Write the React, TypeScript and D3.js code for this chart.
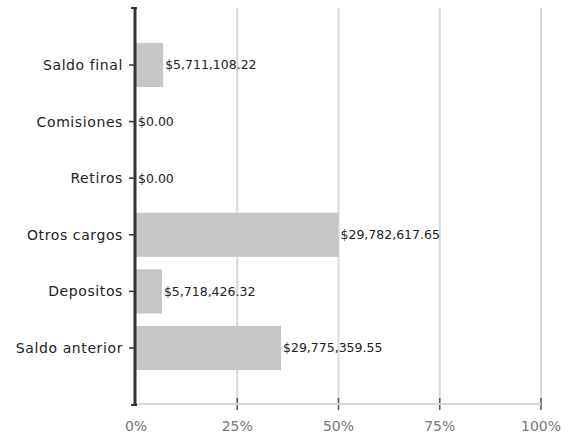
import React from "react";
import * as d3 from "d3";

const categories = ["Saldo final", "Comisiones", "Retiros", "Otros cargos", "Depositos", "Saldo anterior"];
const shares = [6.7, 0, 0, 50.0, 6.4, 35.8];
const valueLabels = ["$5,711,108.22", "$0.00", "$0.00", "$29,782,617.65", "$5,718,426.32", "$29,775,359.55"];
const xTicks = [0, 25, 50, 75, 100];

export default function App() {
  const W = 571, H = 438;
  const x = d3.scaleLinear().domain([0, 100]).range([136, 541]);
  const y = d3.scaleBand<string>().domain(categories).range([36.7, 376.3]).paddingInner(0.22).paddingOuter(0.11);
  const axisTop = 8, axisBottom = 405;
  const font = "'DejaVu Sans', Verdana, sans-serif";
  return (
    <svg width={W} height={H} style={{ position: "absolute", left: 0, top: 0, background: "#fff" }}>
      <rect x={0} y={0} width={W} height={H} fill="#fff" />
      {xTicks.slice(1).map((t) => (
        <g key={t}>
          <line x1={x(t)} x2={x(t)} y1={axisTop} y2={axisBottom} stroke="#d8d8d8" strokeWidth={2} />
          <line x1={x(t)} x2={x(t)} y1={398} y2={410} stroke="#555" strokeWidth={1.5} />
        </g>
      ))}
      <line x1={x(0)} x2={x(100)} y1={404} y2={404} stroke="#d4d4d4" strokeWidth={2} />
      {categories.map((c, i) => (
        <rect key={c} x={x(0)} y={y(c)} width={x(shares[i]) - x(0)} height={y.bandwidth()} fill="#c6c6c6" />
      ))}
      <line x1={135} x2={135} y1={axisTop} y2={axisBottom} stroke="#333" strokeWidth={3} />
      <line x1={131} x2={137} y1={axisTop} y2={axisTop} stroke="#333" strokeWidth={2} />
      <line x1={131} x2={137} y1={axisBottom} y2={axisBottom} stroke="#333" strokeWidth={2} />
      {categories.map((c, i) => {
        const cy = (y(c) as number) + y.bandwidth() / 2;
        return (
          <g key={c}>
            <line x1={129} x2={135} y1={cy} y2={cy} stroke="#333" strokeWidth={1.5} />
            <text x={123} y={cy} dy="0.35em" textAnchor="end" fontFamily={font} fontSize={14} fill="#222" letterSpacing={0.6}>{c}</text>
            <text x={x(shares[i]) + 2} y={cy} dy="0.35em" fontFamily={font} fontSize={12.5} fill="#222">{valueLabels[i]}</text>
          </g>
        );
      })}
      {xTicks.map((t) => (
        <text key={t} x={x(t)} y={431} textAnchor="middle" fontFamily={font} fontSize={14} fill="#777">{t}%</text>
      ))}
    </svg>
  );
}
